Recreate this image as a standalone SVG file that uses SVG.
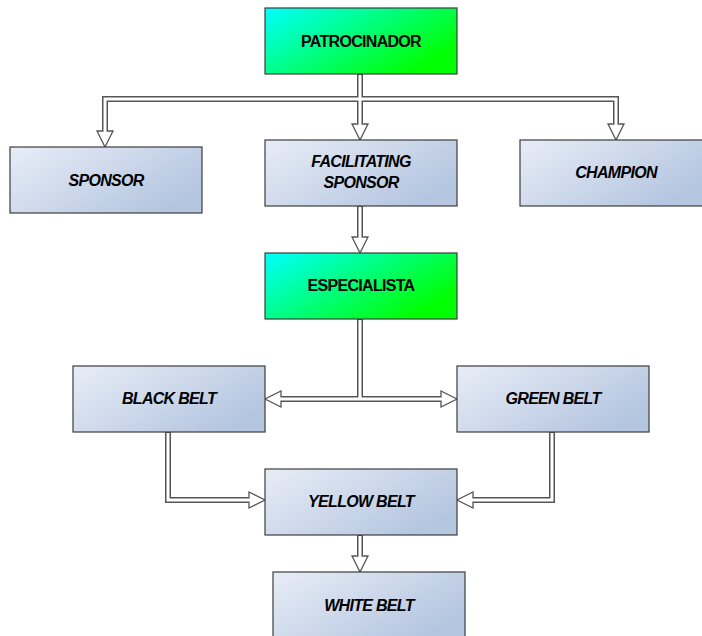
<svg xmlns="http://www.w3.org/2000/svg" width="702" height="636" viewBox="0 0 702 636">
<defs>
<linearGradient id="gGreen" x1="0" y1="0" x2="1" y2="0.6">
<stop offset="0" stop-color="#00ffff"/>
<stop offset="1" stop-color="#00ff00"/>
</linearGradient>
<linearGradient id="gBlue" x1="0" y1="0" x2="1" y2="0.6">
<stop offset="0" stop-color="#e8edf7"/>
<stop offset="1" stop-color="#b5c6e0"/>
</linearGradient>
</defs>
<style>
.box{stroke:#3c3c3c;stroke-width:1.2}
.g{fill:url(#gGreen)}
.b{fill:url(#gBlue)}
.t{font-family:"Liberation Sans",Arial,sans-serif;font-weight:bold;font-size:16px;letter-spacing:-0.7px;text-anchor:middle;fill:#000}
.i{font-style:italic}
.outer{fill:none;stroke:#555;stroke-width:6}
.inner{fill:none;stroke:#fff;stroke-width:3}
.ah{fill:#fff;stroke:#555;stroke-width:1.3;stroke-linejoin:miter}
</style>
<rect width="702" height="636" fill="#fff"/>
<g id="connectors">
<path class="outer" d="M360,74V124M360,99H105V131M360,99H616V124M360,206V237M360,319V399H281M360,399H441M168,432V500H249M552,432V500H473M360,535V556"/>
<polygon class="ah" points="352,124 368,124 360,140"/>
<polygon class="ah" points="97,131 113,131 105,147"/>
<polygon class="ah" points="608,124 624,124 616,140"/>
<polygon class="ah" points="352,237 368,237 360,253"/>
<polygon class="ah" points="281,391 281,407 265,399"/>
<polygon class="ah" points="441,391 441,407 457,399"/>
<polygon class="ah" points="249,492 249,508 265,500"/>
<polygon class="ah" points="473,492 473,508 457,500"/>
<polygon class="ah" points="352,556 368,556 360,572"/>
<path class="inner" d="M360,75V128M360,99H105V135M360,99H616V128M360,207V241M360,320V399H277M360,399H445M168,433V500H253M552,433V500H469M360,536V560"/>
</g>
<g id="patrocinador"><rect class="box g" x="265" y="8" width="192" height="66"/><text class="t" x="361" y="47">PATROCINADOR</text></g>
<g id="sponsor"><rect class="box b" x="10" y="147" width="192" height="66"/><text class="t i" x="106" y="186">SPONSOR</text></g>
<g id="facilitating"><rect class="box b" x="265" y="140" width="192" height="66"/><text class="t i" x="361" y="167">FACILITATING</text><text class="t i" x="361" y="188">SPONSOR</text></g>
<g id="champion"><rect class="box b" x="520" y="140" width="184" height="66"/><text class="t i" x="616" y="178">CHAMPION</text></g>
<g id="especialista"><rect class="box g" x="265" y="253" width="192" height="66"/><text class="t" x="361" y="291">ESPECIALISTA</text></g>
<g id="blackbelt"><rect class="box b" x="73" y="366" width="192" height="66"/><text class="t i" x="169" y="404">BLACK BELT</text></g>
<g id="greenbelt"><rect class="box b" x="457" y="366" width="192" height="66"/><text class="t i" x="553" y="404">GREEN BELT</text></g>
<g id="yellowbelt"><rect class="box b" x="265" y="469" width="192" height="66"/><text class="t i" x="361" y="507">YELLOW BELT</text></g>
<g id="whitebelt"><rect class="box b" x="273" y="572" width="192" height="66"/><text class="t i" x="369" y="611">WHITE BELT</text></g>
</svg>
